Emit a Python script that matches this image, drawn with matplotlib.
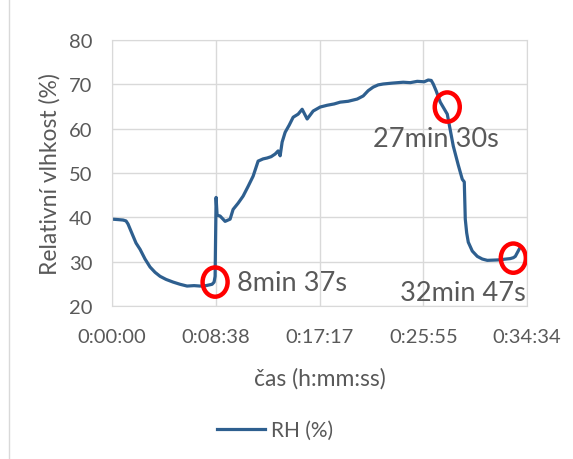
import matplotlib.pyplot as plt
from matplotlib.patches import Ellipse
from matplotlib.lines import Line2D

# time in seconds, relative humidity in %
time_s = [0, 30, 55, 70, 80, 92, 105, 120, 140, 165, 190, 215, 240, 270, 305, 340,
          375, 410, 440, 470, 500, 510, 515,
          520, 525, 540, 565, 590, 605, 630, 655, 680, 705, 730, 755, 775, 795, 815, 830, 840,
          850, 865, 885, 905, 930, 950, 975, 1005, 1040, 1075, 1110, 1140, 1180, 1225, 1255,
          1280, 1305, 1330, 1355, 1400, 1455, 1490, 1525, 1560, 1580, 1595, 1605, 1620,
          1640, 1675, 1705, 1730, 1750, 1760, 1765, 1772, 1780, 1800,
          1825, 1850, 1875, 1930, 1990, 2005, 2015, 2040]
rh = [39.6, 39.5, 39.4, 39.2, 38.5, 37.2, 35.8, 34.2, 32.8, 30.6, 28.8, 27.6, 26.7, 26.0, 25.4, 24.9,
      24.5, 24.6, 24.5, 24.6, 24.9, 25.4, 26.7,
      44.5, 40.5, 40.3, 39.1, 39.6, 41.8, 43.2, 44.8, 47.0, 49.3, 52.7, 53.2, 53.4, 53.7, 54.3, 55.0, 53.9,
      57.0, 59.2, 60.8, 62.6, 63.3, 64.4, 62.2, 64.0, 64.9, 65.3, 65.6, 66.0, 66.2, 66.7, 67.4,
      68.6, 69.4, 69.9, 70.1, 70.3, 70.5, 70.4, 70.7, 70.6, 71.0, 70.9, 70.1, 68.5,
      66.0, 63.3, 56.1, 51.8, 48.6, 48.0, 39.6, 36.5, 34.4, 32.4,
      31.2, 30.6, 30.3, 30.4, 30.7, 30.9, 31.2, 33.3]

tick_pos = [0, 518.4, 1036.8, 1555.2, 2073.6]
tick_labels = ['0:00:00', '0:08:38', '0:17:17', '0:25:55', '0:34:34']

# highlighted moments and their captions
marks_t = [515, 1675, 2005]
marks_rh = [25.4, 64.9, 30.8]
mark_labels = ['8min 37s', '27min 30s', '32min 47s']
label_x = [625, 1305, 1440]
label_y = [25.2, 57.9, 23.1]

plt.rcParams['font.family'] = ['Lato', 'DejaVu Sans']
grey = '#595959'

fig = plt.figure(figsize=(5.73, 4.60), dpi=100)
ax = fig.add_axes([0.1955, 0.3326, 0.7243, 0.578])

ax.plot(time_s, rh, color='#2E5F8F', lw=2.3, label='RH (%)', solid_joinstyle='round')

for t, v in zip(marks_t, marks_rh):
    ax.add_patch(Ellipse((t, v), width=125, height=6.6, fill=False,
                         edgecolor='#FF0000', lw=3.2, zorder=5))
for x, y, s in zip(label_x, label_y, mark_labels):
    ax.text(x, y, s, fontsize=19.5, color=grey, va='center', ha='left')

ax.set_xlim(0, 2073.6)
ax.set_ylim(20, 80)
ax.set_xticks(tick_pos)
ax.set_xticklabels(tick_labels)
ax.set_yticks(range(20, 81, 10))
ax.grid(True, color='#D9D9D9', lw=1)
ax.set_axisbelow(True)
for sp in ax.spines.values():
    sp.set_color('#D9D9D9')
ax.tick_params(length=0, labelsize=14.5, labelcolor=grey)
ax.tick_params(axis='x', pad=16)
ax.tick_params(axis='y', pad=14)

ax.set_xlabel('čas (h:mm:ss)', fontsize=16.5, color=grey, labelpad=16)
ax.set_ylabel('Relativní vlhkost (%)', fontsize=16.5, color=grey, labelpad=6)

leg = fig.legend(loc='center', bbox_to_anchor=(0.48, 0.063), frameon=False,
                 fontsize=15, handlelength=2.3, handletextpad=0.3)
for txt in leg.get_texts():
    txt.set_color(grey)

fig.add_artist(Line2D([0.016, 0.016], [0, 1], color='#D9D9D9', lw=1,
                      transform=fig.transFigure))

fig.savefig('out.png', dpi=100)
